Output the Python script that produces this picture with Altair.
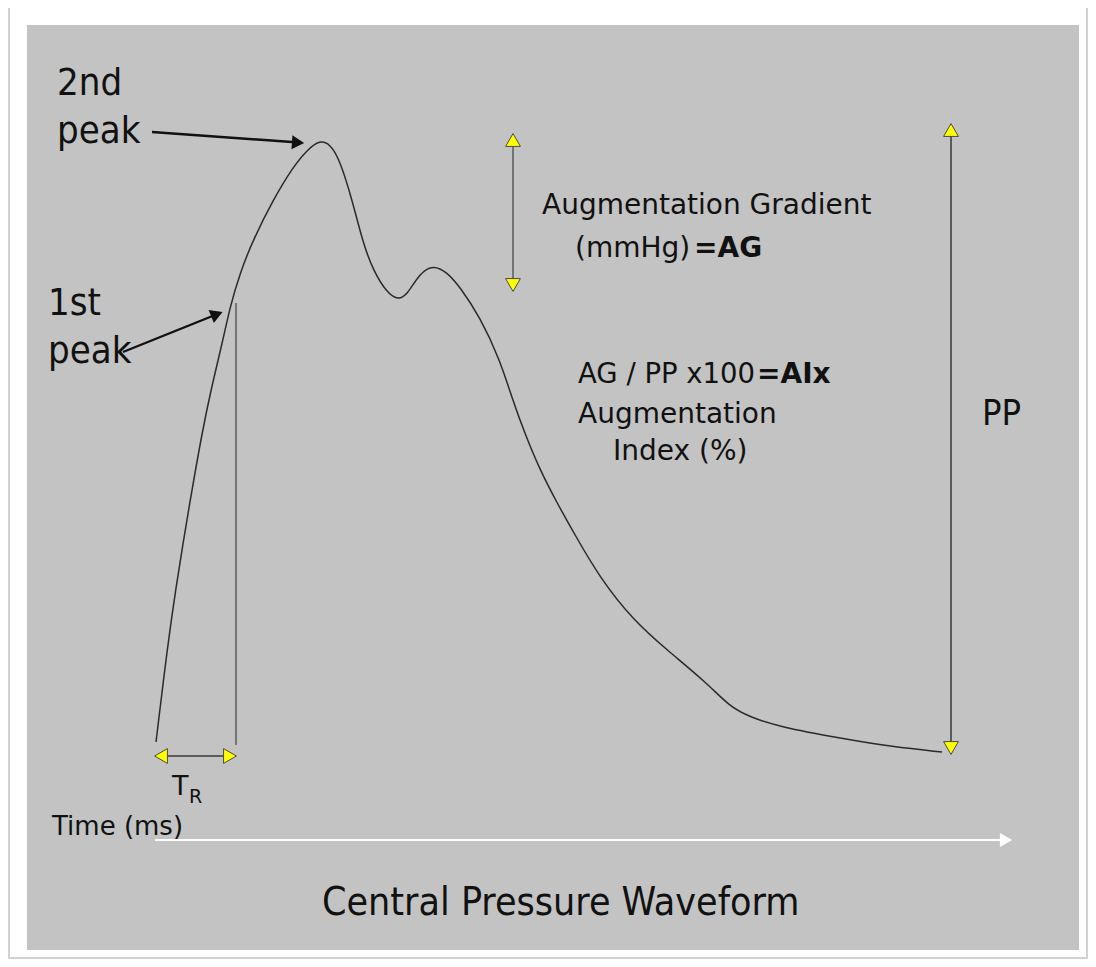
import altair as alt
import pandas as pd

# ---- waveform (page pixel coordinates) ----
wave_x = [156, 165, 173, 183, 192, 202, 212, 223, 230, 240, 253, 273, 293, 307, 320,
          330, 340, 353, 363, 373, 387, 398, 407, 420, 433, 447, 460, 480, 500, 512, 525,
          540, 556, 575, 600, 633, 667, 707, 730, 750, 780, 840, 893, 942]
wave_y = [742, 667, 607, 543, 490, 433, 385, 340, 307, 273, 240, 200, 167, 150, 140,
          144, 160, 203, 243, 270, 293, 300, 295, 273, 265, 272, 287, 317, 360, 398, 434,
          470, 501, 535, 578, 620, 650, 683, 707, 717, 727, 738, 747, 752]

# ---- gray guide lines ----
guide_x = [236, 160, 513, 951]
guide_x2 = [236, 233, 513, 951]
guide_y = [303, 756, 140, 130]
guide_y2 = [745, 756, 285, 748]
guide_w = [1.5, 2, 1.5, 2]

# ---- yellow arrow heads ----
tri_x = [161, 230, 513, 513, 951, 951]
tri_y = [756, 756, 140, 285, 130, 748]
tri_shape = ["triangle-left", "triangle-right", "triangle-up", "triangle-down", "triangle-up", "triangle-down"]

# ---- black pointer arrows ----
ptr_seg = ["2nd", "2nd", "1st", "1st"]
ptr_x = [152, 292, 123, 215]
ptr_y = [132, 142, 352, 315]
head_x = [296, 215]
head_y = [142.5, 315]
head_angle = [94, 68]

# ---- time axis arrow ----
time_x = [155, 1003]
time_y = [840, 840]

# ---- labels ----
reg_text = ["Augmentation Gradient", "(mmHg)", "AG / PP x100", "Augmentation", "Index (%)", "T", "Time (ms)"]
reg_x = [542, 575, 578, 578, 613, 172, 52]
reg_y = [214, 257, 383, 423, 460, 795, 835]
reg_size = [28, 28, 27.5, 28, 28, 27, 26]

sub_text = ["R"]
sub_x = [189]
sub_y = [803]
sub_size = [19]

bold_text = ["=AG", "=AIx"]
bold_x = [694, 757]
bold_y = [257, 383]
bold_size = [28, 28]

big_text = ["2nd", "peak", "1st", "peak", "PP", "Central Pressure Waveform"]
big_x = [57, 57, 48, 48, 982, 322]
big_y = [95, 143, 315, 363, 425, 915]
big_size = [38, 38, 38, 38, 36, 39]

# frame and panel
frame = pd.DataFrame({"x": [9], "x2": [1087], "y": [7], "y2": [958]})
panel = pd.DataFrame({"x": [27], "x2": [1079], "y": [25], "y2": [950]})

XS = alt.Scale(domain=[8, 1088], nice=False, zero=False)
YS = alt.Scale(domain=[959, 8], nice=False, zero=False)


def X(f="x"):
    return alt.X(f"{f}:Q", scale=XS, axis=None)


def Y(f="y"):
    return alt.Y(f"{f}:Q", scale=YS, axis=None)


frame_l = alt.Chart(frame).mark_rect(fill="white", stroke="#d2d2d2", strokeWidth=2).encode(
    x=X(), x2="x2:Q", y=Y(), y2="y2:Q")
panel_l = alt.Chart(panel).mark_rect(fill="#c3c3c3").encode(x=X(), x2="x2:Q", y=Y(), y2="y2:Q")

wave = alt.Chart(pd.DataFrame({"x": wave_x, "y": wave_y})).mark_line(
    color="#2a2a2a", strokeWidth=1.5, interpolate="basis").encode(x=X(), y=Y())

guides = alt.Chart(pd.DataFrame({"x": guide_x, "x2": guide_x2, "y": guide_y, "y2": guide_y2, "w": guide_w})).mark_rule(
    color="#5a5a5a").encode(x=X(), x2="x2:Q", y=Y(), y2="y2:Q",
                            strokeWidth=alt.StrokeWidth("w:Q", scale=None))

tris = alt.Chart(pd.DataFrame({"x": tri_x, "y": tri_y, "s": tri_shape})).mark_point(
    filled=True, fill="#ffff00", stroke="#4a4a4a", strokeWidth=1, size=220, opacity=1).encode(
    x=X(), y=Y(), shape=alt.Shape("s:N", scale=None))

ptr = alt.Chart(pd.DataFrame({"x": ptr_x, "y": ptr_y, "seg": ptr_seg})).mark_line(
    color="#111111", strokeWidth=2.4).encode(x=X(), y=Y(), detail="seg:N")

heads = alt.Chart(pd.DataFrame({"x": head_x, "y": head_y, "a": head_angle})).mark_point(
    shape="triangle", filled=True, color="#111111", size=200, opacity=1).encode(
    x=X(), y=Y(), angle=alt.Angle("a:Q", scale=None))

time_line = alt.Chart(pd.DataFrame({"x": time_x, "y": time_y, "seg": ["t", "t"]})).mark_line(
    color="white", strokeWidth=2).encode(x=X(), y=Y(), detail="seg:N")
time_head = alt.Chart(pd.DataFrame({"x": [1006], "y": [840]})).mark_point(
    shape="triangle-right", filled=True, color="white", size=200, opacity=1).encode(x=X(), y=Y())


def text_layer(texts, xs, ys, sizes, font, weight="normal"):
    df = pd.DataFrame({"t": texts, "x": xs, "y": ys, "s": sizes})
    return alt.Chart(df).mark_text(align="left", baseline="alphabetic", font=font,
                                   fontWeight=weight, color="#111111").encode(
        x=X(), y=Y(), text="t:N", size=alt.Size("s:Q", scale=None))


reg = text_layer(reg_text, reg_x, reg_y, reg_size, "DejaVu Sans")
sub = text_layer(sub_text, sub_x, sub_y, sub_size, "DejaVu Sans")
bold = text_layer(bold_text, bold_x, bold_y, bold_size, "DejaVu Sans", "bold")
big = text_layer(big_text, big_x, big_y, big_size, "DejaVu Sans Condensed, DejaVu Sans")

chart = alt.layer(frame_l, panel_l, time_line, time_head, wave, guides, tris, ptr, heads,
                  reg, sub, bold, big).properties(
    width=1080, height=951, padding=0, autosize="none", background="white"
).configure_view(strokeWidth=0)

chart.save("out.html", embed_options={"renderer": "svg", "actions": False})
